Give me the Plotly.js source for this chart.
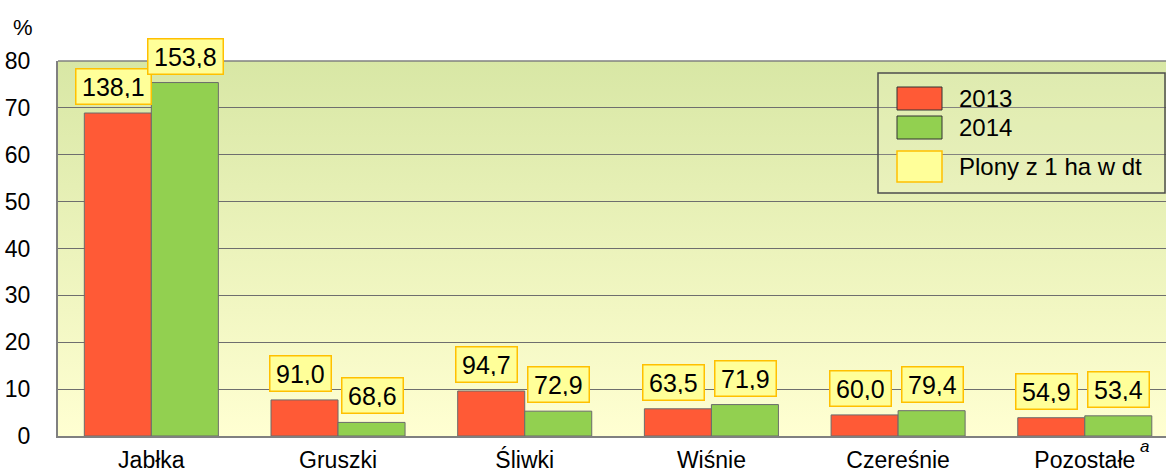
<!DOCTYPE html>
<html>
<head>
<meta charset="utf-8">
<script src="https://cdn.plot.ly/plotly-3.0.1.min.js"></script>
<style>
  html, body { margin: 0; padding: 0; background: #ffffff; }
  #chart { width: 1166px; height: 473px; }
</style>
</head>
<body>
<div id="chart"></div>
<script>
// ---- data ----
const categories = ['Jabłka', 'Gruszki', 'Śliwki', 'Wiśnie', 'Czereśnie', 'Pozostałe'];
const values2013 = [68.9, 7.7, 9.6, 5.8, 4.5, 3.9];
const values2014 = [75.4, 2.9, 5.3, 6.7, 5.4, 4.3];
const yields2013 = ['138,1', '91,0', '94,7', '63,5', '60,0', '54,9'];
const yields2014 = ['153,8', '68,6', '72,9', '71,9', '79,4', '53,4'];
const seriesNames = ['2013', '2014'];
const yieldLegend = 'Plony z 1 ha w dt';
const yTicks = [0, 10, 20, 30, 40, 50, 60, 70, 80];

// ---- style ----
const W = 1166, H = 473;
const M = { l: 58, r: 0, t: 61, b: 37 };
const PW = W - M.l - M.r, PH = H - M.t - M.b;
const FONT = 'Liberation Sans, Arial, sans-serif';
const RED = '#ff5a36', GREEN = '#92d050', BAR_LINE = '#6b6b6b';
const BOX_BG = '#ffff99', BOX_LINE = '#ffc000';

const px2x = p => (p - M.l) / PW;
const px2y = p => (M.t + PH - p) / PH;

const gradSvg = '<svg xmlns="http://www.w3.org/2000/svg" width="100" height="100" preserveAspectRatio="none">' +
  '<defs><linearGradient id="g" x1="0" y1="0" x2="0" y2="1">' +
  '<stop offset="0" stop-color="#d8e7a5"/><stop offset="1" stop-color="#ffffd2"/>' +
  '</linearGradient></defs><rect width="100" height="100" fill="url(#g)"/></svg>';
const gradUri = 'data:image/svg+xml;base64,' + btoa(gradSvg);

const traces = [
  { type: 'bar', name: seriesNames[0], x: categories, y: values2013,
    marker: { color: RED, line: { color: BAR_LINE, width: 1 } }, hoverinfo: 'none' },
  { type: 'bar', name: seriesNames[1], x: categories, y: values2014,
    marker: { color: GREEN, line: { color: BAR_LINE, width: 1 } }, hoverinfo: 'none' }
];

const annotations = [];
function boxLabel(cat, val, txt, shift) {
  annotations.push({
    x: cat, y: val, xref: 'x', yref: 'y', text: txt, showarrow: false,
    xanchor: 'center', yanchor: 'bottom', xshift: shift, yshift: 8,
    font: { family: FONT, size: 25, color: '#000' },
    bgcolor: BOX_BG, bordercolor: BOX_LINE, borderwidth: 1.5, borderpad: 5.5, height: 23
  });
}
categories.forEach((c, i) => {
  boxLabel(c, values2013[i], yields2013[i], -38);
  boxLabel(c, values2014[i], yields2014[i], 34);
});

// % unit
annotations.push({ xref: 'paper', yref: 'paper', x: px2x(23), y: px2y(27), text: '%',
  showarrow: false, xanchor: 'center', yanchor: 'middle', font: { family: FONT, size: 22, color: '#000' } });
// superscript a
annotations.push({ xref: 'paper', yref: 'paper', x: px2x(1144), y: px2y(446), text: '<i>a</i>',
  showarrow: false, xanchor: 'center', yanchor: 'middle', font: { family: FONT, size: 17, color: '#000' } });

// legend (drawn manually)
const shapes = [
  { type: 'rect', xref: 'paper', yref: 'paper', x0: px2x(878), x1: px2x(1165), y0: px2y(193), y1: px2y(73),
    line: { color: '#4d4d4d', width: 1.5 }, fillcolor: 'rgba(255,255,230,0.15)', layer: 'above' },
  { type: 'rect', xref: 'paper', yref: 'paper', x0: px2x(897), x1: px2x(942), y0: px2y(110), y1: px2y(87),
    line: { color: '#333', width: 1 }, fillcolor: RED, layer: 'above' },
  { type: 'rect', xref: 'paper', yref: 'paper', x0: px2x(897), x1: px2x(942), y0: px2y(139), y1: px2y(116),
    line: { color: '#333', width: 1 }, fillcolor: GREEN, layer: 'above' },
  { type: 'rect', xref: 'paper', yref: 'paper', x0: px2x(897), x1: px2x(942), y0: px2y(182), y1: px2y(151),
    line: { color: BOX_LINE, width: 1.5 }, fillcolor: BOX_BG, layer: 'above' }
];
const legendTexts = [[seriesNames[0], 98], [seriesNames[1], 127], [yieldLegend, 166]];
legendTexts.forEach(([t, yc]) => {
  annotations.push({ xref: 'paper', yref: 'paper', x: px2x(957), y: px2y(yc), text: t, showarrow: false,
    xanchor: 'left', yanchor: 'middle', font: { family: FONT, size: 24, color: '#000' } });
});

const layout = {
  width: W, height: H, margin: M,
  paper_bgcolor: '#ffffff', plot_bgcolor: 'rgba(0,0,0,0)',
  showlegend: false, barmode: 'group', bargap: 0.282, bargroupgap: 0,
  font: { family: FONT, size: 22, color: '#000' },
  images: [{ source: gradUri, xref: 'paper', yref: 'paper', x: 0, y: 1, sizex: 1, sizey: 1,
    sizing: 'stretch', xanchor: 'left', yanchor: 'top', layer: 'below' }],
  xaxis: {
    type: 'category', range: [-0.5, 5.435], showgrid: false, zeroline: false,
    showline: true, linecolor: '#808080', linewidth: 2, ticks: '',
    tickfont: { family: FONT, size: 23, color: '#000' }, ticklabelstandoff: 2, fixedrange: true
  },
  yaxis: {
    range: [0, 80], tickvals: yTicks, ticktext: yTicks.map(String), showgrid: true,
    gridcolor: '#6e6e6e', gridwidth: 1, zeroline: false, showline: true, linecolor: '#808080', linewidth: 2,
    mirror: false, ticks: '', tickfont: { family: FONT, size: 23, color: '#000' }, ticklabelstandoff: 21,
    fixedrange: true
  },
  shapes: shapes, annotations: annotations
};
// top border line of plot area
shapes.push({ type: 'line', xref: 'paper', yref: 'paper', x0: 0, x1: 1, y0: 1, y1: 1,
  line: { color: '#808080', width: 1.5 }, layer: 'below' });

Plotly.newPlot('chart', traces, layout, { staticPlot: true, displayModeBar: false });
</script>
</body>
</html>
